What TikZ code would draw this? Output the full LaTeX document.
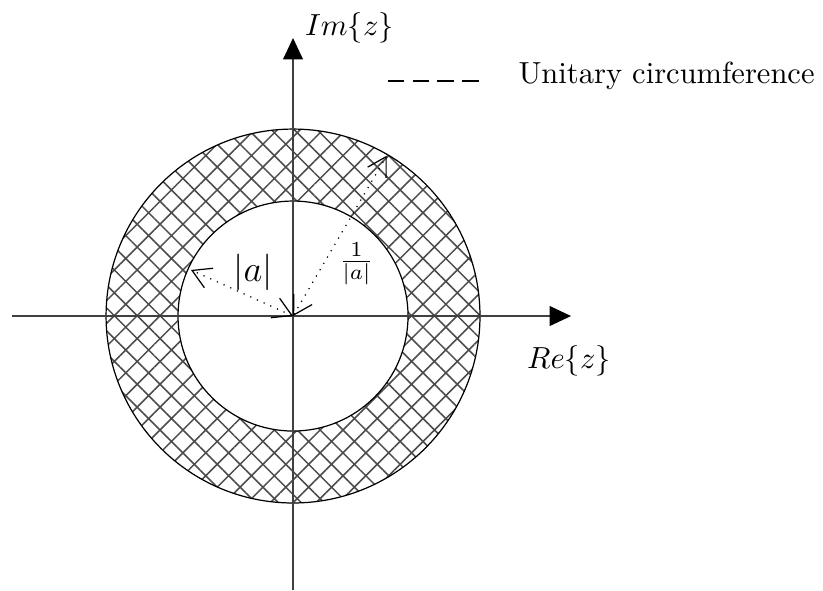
\documentclass[tikz,border=0pt]{standalone}
\usepackage{amsmath, amssymb}
\usepackage{tikz}
\usetikzlibrary{arrows.meta,patterns.meta}

\begin{document}
\begin{tikzpicture}[>={Straight Barb[length=6pt,width=7pt]},x=1cm,y=1cm]
    \tikzset{
        axis/.style={-{Triangle[length=7pt,width=6.5pt,color=black]},black!75},
        region/.style={pattern={Hatch[angle=45,distance=5.3pt,line width=0.5pt]},
            pattern color=black!70,even odd rule},
        radius/.style={<->,dotted},
        legend/.style={thick,dash pattern=on 5.4pt off 2.7pt}
    }
    \useasboundingbox (-3.376,-3.157) rectangle (6.106,3.641);

    \coordinate (origin) at (0,0);
    \coordinate (re-start) at (-3.237,0);
    \coordinate (re-end) at (3.203,0);
    \coordinate (im-start) at (0,-3.157);
    \coordinate (im-end) at (0,3.203);

    % ring between |a| and 1/|a|
    \fill[region] (origin) circle (2.154) (origin) circle (1.325);
    \draw (origin) circle (2.154);
    \draw (origin) circle (1.325);

    \draw[axis] (re-start) -- (re-end);
    \draw[axis] (im-start) -- (im-end);
    \node (re-label) at (3.18,-0.513) {$Re\{z\}$};
    \node (im-label) at (0.651,3.318) {$Im\{z\}$};

    \coordinate (a-tip) at (155.7:1.29);
    \coordinate (inv-tip) at (59.7:2.14);
    \draw[radius] (origin) -- (a-tip);
    \draw[radius] (origin) -- (inv-tip);
    \node[font=\large] (a-label) at (-0.461,0.501) {$|a|$};
    \node (inv-label) at (0.732,0.599) {$\frac{1}{|a|}$};

    \coordinate (leg-start) at (1.094,2.707);
    \coordinate (leg-end) at (2.154,2.707);
    \draw[legend] (leg-start) -- (leg-end);
    \node[anchor=base west,inner sep=0pt] (leg-text) at (2.592,2.684)
        {Unitary circumference};
\end{tikzpicture}
\end{document}
